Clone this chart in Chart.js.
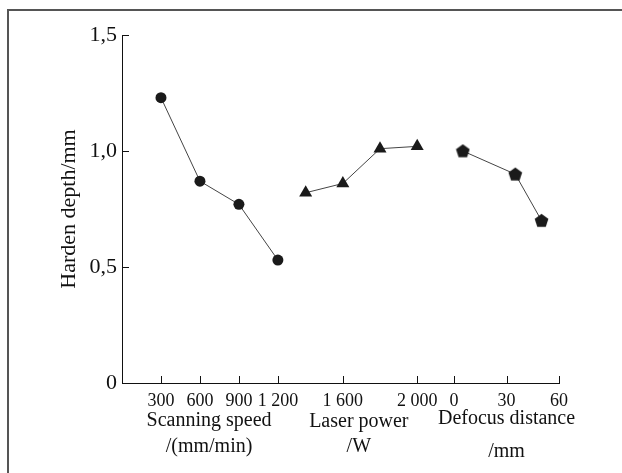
<!DOCTYPE html>
<html>
<head>
<meta charset="utf-8">
<script src="https://cdn.jsdelivr.net/npm/chart.js@4/dist/chart.umd.min.js"></script>
<style>
  body { margin: 0; background: #fff; }
  #frame { position: absolute; left: 7px; top: 9px; width: 700px; height: 600px;
           border-left: 2px solid #555; border-top: 2px solid #555; }
  #chart { position: absolute; left: 0; top: 0; }
</style>
</head>
<body>
<div id="frame"></div>
<canvas id="chart" width="622" height="473"></canvas>
<script>
// data
const speed = [300, 600, 900, 1200];
const speedDepth = [1.23, 0.87, 0.77, 0.53];
const power = [1400, 1600, 1800, 2000];
const powerDepth = [0.82, 0.86, 1.01, 1.02];
const defocus = [5, 35, 50];
const defocusDepth = [1.0, 0.9, 0.7];

const speedTicks = [300, 600, 900, 1200];
const powerTicks = [1600, 2000];
const defocusTicks = [0, 30, 60];
const yTicks = [0, 0.5, 1.0, 1.5];

const groupTitles = [
  ["Scanning speed", "/(mm/min)"],
  ["Laser power", "/W"],
  ["Defocus distance", "/mm"]
];

// each factor gets its own stretch of the shared x axis
const groups = [
  { origin: 0, offset: 0, scale: 0.13, titleAt: 670, lines: [421, 447] },
  { origin: 1600, offset: 221, scale: 0.186, titleAt: 1686, lines: [422, 447] },
  { origin: 0, offset: 332.3, scale: 1.75, titleAt: 30, lines: [419, 452] }
];
const toPos = (g, v) => groups[g].offset + (v - groups[g].origin) * groups[g].scale;

const fmtNum = v => v >= 1000 ? Math.floor(v / 1000) + ' ' + String(v % 1000).padStart(3, '0') : String(v);

const tickLabels = {};
const xTicks = [];
[speedTicks, powerTicks, defocusTicks].forEach((list, g) => {
  list.forEach(v => {
    const p = toPos(g, v);
    xTicks.push(p);
    tickLabels[p.toFixed(2)] = fmtNum(v);
  });
});

const pentagon = (() => {
  const c = document.createElement('canvas');
  c.width = 15; c.height = 15;
  const x = c.getContext('2d');
  x.fillStyle = '#1a1a1a';
  x.beginPath();
  for (let i = 0; i < 5; i++) {
    const a = -Math.PI / 2 + i * 2 * Math.PI / 5;
    const px = 7.5 + 7.2 * Math.cos(a), py = 7.9 + 7.2 * Math.sin(a);
    i ? x.lineTo(px, py) : x.moveTo(px, py);
  }
  x.closePath();
  x.fill();
  return c;
})();

const mkSet = (g, xs, ys, style, r) => ({
  data: xs.map((v, i) => ({ x: toPos(g, v), y: ys[i] })),
  borderColor: '#444',
  borderWidth: 1,
  pointStyle: style,
  pointRadius: r,
  pointBackgroundColor: '#1a1a1a',
  pointBorderColor: '#1a1a1a',
  pointBorderWidth: 0,
  fill: false,
  tension: 0
});

const serif = 'Liberation Serif';

const inwardTicks = {
  id: 'inwardTicks',
  afterDraw(chart) {
    const ctx = chart.ctx, xs = chart.scales.x, ys = chart.scales.y;
    ctx.save();
    ctx.strokeStyle = '#111';
    ctx.lineWidth = 1;
    ctx.beginPath();
    xTicks.forEach(p => {
      const px = Math.round(xs.getPixelForValue(p)) + 0.5;
      ctx.moveTo(px, xs.top);
      ctx.lineTo(px, xs.top - 7);
    });
    yTicks.forEach(v => {
      if (v === 0) return;
      const py = Math.round(ys.getPixelForValue(v)) + 0.5;
      ctx.moveTo(ys.right, py);
      ctx.lineTo(ys.right + 7, py);
    });
    ctx.stroke();
    // factor names under the axis
    ctx.fillStyle = '#111';
    ctx.font = '20px "' + serif + '"';
    ctx.textAlign = 'center';
    ctx.textBaseline = 'middle';
    groups.forEach((g, i) => {
      const px = xs.getPixelForValue(toPos(i, g.titleAt));
      ctx.fillText(groupTitles[i][0], px, g.lines[0]);
      ctx.fillText(groupTitles[i][1], px, g.lines[1]);
    });
    ctx.restore();
  }
};

new Chart(document.getElementById('chart'), {
  type: 'line',
  data: {
    datasets: [
      mkSet(0, speed, speedDepth, 'circle', 5.5),
      mkSet(1, power, powerDepth, 'triangle', 7.5),
      mkSet(2, defocus, defocusDepth, pentagon, 7.5)
    ]
  },
  options: {
    responsive: false,
    animation: false,
    layout: { padding: { top: 35, right: 63, bottom: 0, left: 0 } },
    plugins: { legend: { display: false }, tooltip: { enabled: false } },
    scales: {
      x: {
        type: 'linear',
        min: 0,
        max: 437.3,
        afterFit: s => { s.height = 90; },
        afterBuildTicks: s => { s.ticks = xTicks.map(v => ({ value: v })); },
        grid: { display: false, drawTicks: false },
        border: { display: true, color: '#111', width: 1 },
        ticks: {
          autoSkip: false,
          maxRotation: 0,
          padding: 7,
          color: '#111',
          font: { family: serif, size: 18 },
          callback: v => tickLabels[v.toFixed(2)] || ''
        }
      },
      y: {
        min: 0,
        max: 1.5,
        afterFit: s => { s.width = 122; },
        afterBuildTicks: s => { s.ticks = yTicks.map(v => ({ value: v })); },
        grid: { display: false, drawTicks: false },
        border: { display: true, color: '#111', width: 1 },
        ticks: {
          padding: 5,
          color: '#111',
          font: { family: serif, size: 22 },
          callback: v => v === 0 ? '0' : v.toFixed(1).replace('.', ',')
        },
        title: {
          display: true,
          text: 'Harden depth/mm',
          color: '#111',
          font: { family: serif, size: 22 },
          padding: { top: 56, bottom: 0 }
        }
      }
    }
  },
  plugins: [inwardTicks]
});
</script>
</body>
</html>
